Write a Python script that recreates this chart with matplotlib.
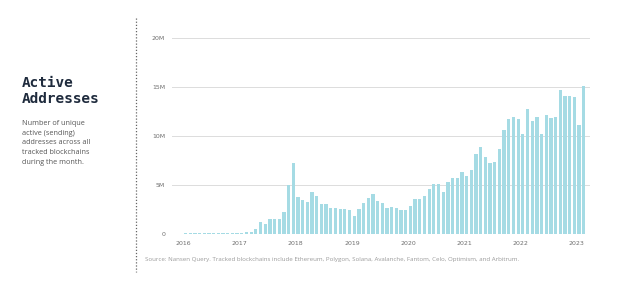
import numpy as np
import pandas as pd
import matplotlib.pyplot as plt

# monthly active addresses, millions (Nov 2015 -> Feb 2023)
start_month = '2015-11'
end_month = '2023-02'
vals_2015 = [0.03, 0.03]
vals_2016 = [0.05, 0.05, 0.05, 0.06, 0.06, 0.06, 0.07, 0.07, 0.08, 0.08, 0.1, 0.1]
vals_2017 = [0.15, 0.25, 0.25, 0.5, 1.2, 1.0, 1.5, 1.5, 1.5, 2.2, 5.0, 7.2]
vals_2018 = [3.8, 3.5, 3.3, 4.3, 3.9, 3.1, 3.1, 2.7, 2.7, 2.5, 2.6, 2.4]
vals_2019 = [1.8, 2.5, 3.2, 3.7, 4.1, 3.4, 3.2, 2.7, 2.8, 2.7, 2.4, 2.4]
vals_2020 = [2.9, 3.6, 3.6, 3.9, 4.6, 5.1, 5.1, 4.3, 5.3, 5.7, 5.7, 6.3]
vals_2021 = [5.9, 6.5, 8.2, 8.9, 7.9, 7.2, 7.3, 8.7, 10.6, 11.7, 11.9, 11.7]
vals_2022 = [10.2, 12.8, 11.5, 11.9, 10.2, 12.1, 11.8, 11.9, 14.7, 14.1, 14.1, 14.0]
vals_2023 = [11.1, 15.1]

year_ticks = [2016, 2017, 2018, 2019, 2020, 2021, 2022, 2023]
y_ticks = [0, 5, 10, 15, 20]
y_labels = ['0', '5M', '10M', '15M', '20M']

title = 'Active\nAddresses'
subtitle = ('Number of unique\nactive (sending)\naddresses across all\n'
            'tracked blockchains\nduring the month.')
source = ('Source: Nansen Query. Tracked blockchains include Ethereum, Polygon, '
          'Solana, Avalanche, Fantom, Celo, Optimism, and Arbitrum.')

values = np.array(vals_2015 + vals_2016 + vals_2017 + vals_2018 + vals_2019
                  + vals_2020 + vals_2021 + vals_2022 + vals_2023)
months = pd.period_range(start_month, end_month, freq='M')
x = months.year + (months.month - 0.5) / 12.

fig = plt.figure(figsize=(6.31, 2.85), dpi=100)
ax = fig.add_axes([0.2726, 0.179, 0.935 - 0.2726, 0.8667 - 0.179])

ax.bar(x, values, width=0.7 / 12, color='#a5dbe4', zorder=2)

ax.set_ylim(0, 20)
ax.set_xlim(2015.8, 2023.236)
ax.set_yticks(y_ticks)
ax.set_yticklabels(y_labels)
ax.set_xticks(year_ticks)
ax.set_xticklabels([str(y) for y in year_ticks])
ax.grid(axis='y', color='#dcdcdc', linewidth=0.7, zorder=0)
ax.tick_params(axis='both', length=0, labelsize=4.5, labelcolor='#6f6f6f',
               pad=5)
for s in ax.spines.values():
    s.set_visible(False)

# left panel text
fig.text(22 / 631, 1 - 76 / 285, title, family='DejaVu Sans Mono',
         weight='bold', fontsize=10.4, color='#1f2b3d', va='top',
         linespacing=1.2)
fig.text(22 / 631, 1 - 120 / 285, subtitle, family='Open Sans', fontsize=5.2,
         color='#555555', va='top', linespacing=1.55)

# dotted separator
fig.add_artist(plt.Line2D([136 / 631, 136 / 631], [1 - 18 / 285, 1 - 272 / 285],
                          transform=fig.transFigure, color='#666666',
                          linestyle=(0, (1, 1.5)), linewidth=0.9))

fig.text(145 / 631, 1 - 260 / 285, source, family='Open Sans', fontsize=4.4,
         color='#9a9a9a', va='center')

fig.savefig('out.png', dpi=100, facecolor='white')
